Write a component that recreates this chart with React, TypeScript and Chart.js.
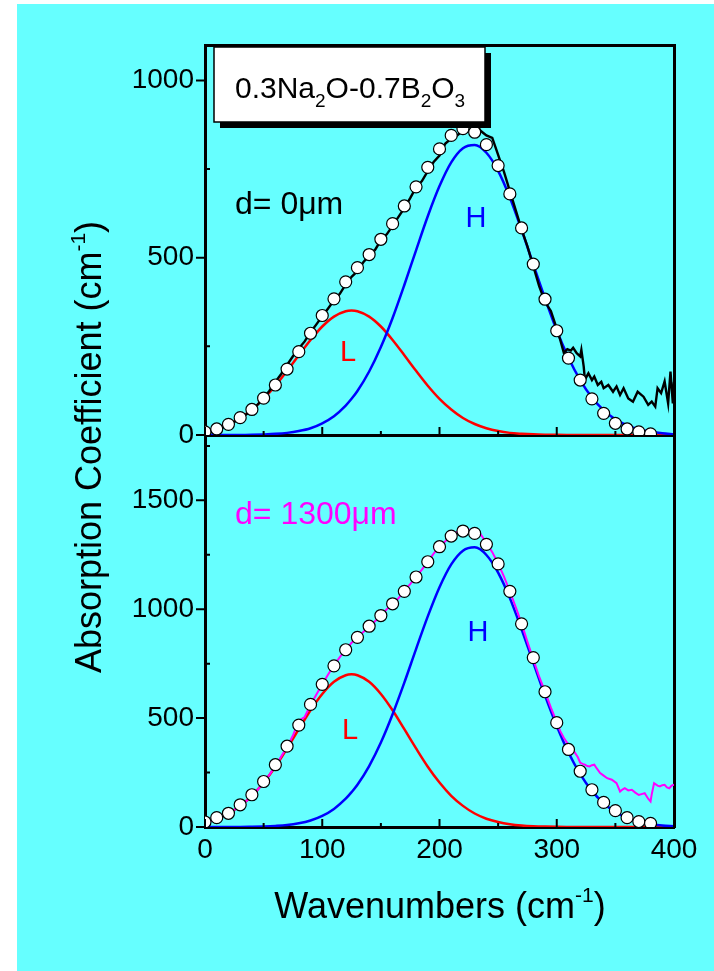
import React, { useEffect, useRef } from 'react';
import { Chart, registerables } from 'chart.js';

Chart.register(...registerables);

const W = 697;
const H = 967;
const FONT = "'Liberation Sans', Arial, Helvetica, sans-serif";

// ---------- data ----------
const compX = [0, 10, 20, 30, 40, 50, 60, 70, 80, 90, 100, 110, 120, 125, 130, 140, 150, 160, 170, 180, 190, 200, 210, 220, 230, 240, 250, 260, 270, 280, 290, 300, 310, 320, 330, 340, 350, 360, 370, 380, 390, 400];
const topL = [11, 19, 31, 48, 72, 102, 139, 181, 225, 268, 306, 334, 349, 351, 349, 334, 306, 268, 225, 181, 139, 102, 72, 48, 31, 19, 11, 6, 3.5, 1.8, 0.9, 0.4, 0.2, 0.1, 0, 0, 0, 0, 0, 0, 0, 0];
const topH = [0, 0, 0, 0, 0.5, 1.6, 3.2, 6, 11, 19, 33, 53, 83, 102, 124, 179, 248, 330, 423, 521, 617, 702, 769, 809, 818, 796, 745, 670, 579, 481, 385, 295, 218, 155, 106, 70, 44, 27, 16, 9, 5, 2];
const botL = [23, 38, 62, 97, 143, 204, 277, 361, 449, 536, 611, 667, 697, 701, 697, 667, 611, 536, 449, 361, 277, 204, 143, 97, 62, 38, 23, 13, 7, 3.6, 1.8, 0.8, 0.4, 0.2, 0, 0, 0, 0, 0, 0, 0, 0];
const botH = [0, 0, 0, 0, 1, 2.5, 5, 9, 17, 30, 51, 83, 130, 160, 194, 280, 388, 518, 663, 817, 967, 1101, 1206, 1269, 1284, 1249, 1168, 1051, 908, 755, 603, 464, 342, 243, 166, 109, 69, 42, 24, 14, 7, 4];

const circleX = [0, 10, 20, 30, 40, 50, 60, 70, 80, 90, 100, 110, 120, 130, 140, 150, 160, 170, 180, 190, 200, 210, 220, 230, 240, 250, 260, 270, 280, 290, 300, 310, 320, 330, 340, 350, 360, 370, 380];
const topFit = [9, 17, 30, 49, 72, 104, 141, 186, 235, 287, 337, 384, 432, 472, 509, 552, 596, 646, 700, 755, 807, 845, 864, 854, 819, 760, 680, 584, 482, 383, 294, 217, 155, 102, 61, 33, 17, 9, 3];
const botFit = [23, 43, 63, 102, 148, 209, 286, 371, 468, 563, 655, 740, 814, 871, 922, 971, 1025, 1082, 1148, 1218, 1287, 1336, 1359, 1348, 1298, 1208, 1082, 933, 778, 621, 479, 356, 256, 171, 113, 75, 43, 25, 17];

const topMeasX = [0, 5, 10, 15, 20, 25, 30, 35, 40, 45, 50, 55, 60, 65, 70, 75, 80, 85, 90, 95, 100, 105, 110, 115, 120, 125, 130, 135, 140, 145, 150, 155, 160, 165, 170, 175, 180, 185, 190, 195, 200, 205, 210, 215, 220, 225, 230, 235, 240, 245, 250, 255, 260, 265, 270, 275, 280, 285, 290, 295, 300,
  303, 306, 309, 312, 314, 317, 320, 321, 323, 324, 327, 330, 332, 335, 338, 340, 344, 348, 351, 354, 357, 361, 365, 369, 374, 378, 381, 384, 386, 389, 392, 395, 397, 399, 400];
const topMeasY = [3, 8, 14, 21, 28, 37, 47, 58, 70, 86, 104, 125, 150, 172, 198, 222, 244, 264, 290, 312, 335, 357, 380, 398, 425, 446, 462, 487, 506, 522, 549, 566, 590, 615, 640, 668, 698, 716, 744, 770, 788, 822, 836, 845, 858, 870, 882, 858, 845, 838, 790, 742, 688, 634, 580, 532, 476, 420, 375, 350, 300,
  268, 232, 242, 238, 246, 231, 222, 240, 193, 156, 174, 155, 165, 141, 150, 132, 141, 122, 137, 113, 132, 103, 94, 122, 108, 85, 94, 80, 132, 118, 151, 89, 179, 89, 150];

const botMeasX = [0, 5, 10, 15, 20, 25, 30, 35, 40, 45, 50, 55, 60, 65, 70, 75, 80, 85, 90, 95, 100, 105, 110, 115, 120, 125, 130, 135, 140, 145, 150, 155, 160, 165, 170, 175, 180, 185, 190, 195, 200, 205, 210, 215, 220, 225, 230, 235, 240, 245, 250, 255, 260, 265, 270, 275, 280, 285, 290, 295, 300,
  303, 306, 309, 312, 315, 318, 320, 322, 324, 326, 328, 330, 332, 334, 337, 340, 343, 347, 351, 354, 356, 358, 361, 364, 367, 370, 373, 375, 378, 380, 381, 383, 386, 388, 390, 392, 394, 396, 398, 400];
const botMeasY = [20, 28, 38, 48, 62, 78, 97, 118, 143, 172, 205, 240, 280, 324, 368, 420, 488, 505, 560, 608, 655, 700, 742, 780, 815, 846, 870, 895, 920, 945, 970, 1000, 1024, 1050, 1085, 1115, 1150, 1182, 1218, 1255, 1288, 1312, 1338, 1355, 1362, 1365, 1368, 1345, 1305, 1262, 1210, 1150, 1082, 1010, 935, 850, 770, 690, 622, 548, 482,
  440, 410, 385, 370, 345, 320, 295, 290, 286, 280, 278, 284, 286, 270, 248, 236, 224, 217, 201, 163, 172, 178, 168, 171, 158, 147, 152, 155, 130, 117, 150, 201, 190, 186, 192, 194, 182, 178, 190, 195];

const xTickValues = [0, 100, 200, 300, 400];
const xMinorValues = [50, 150, 250, 350];
const topYMajor = [0, 500, 1000];
const topYMinor = [250, 750];
const botYMajor = [0, 500, 1000, 1500];
const botYMinor = [250, 750, 1250, 1750];
const TOP_YMAX = 1100;
const BOT_YMAX = 1800;

// ---------- layout (canvas coordinates) ----------
const AREA_LEFT = 188;
const AREA_RIGHT = 657;
const TOP_A = 41;
const MID = 431;
const BOT_B = 823;
const Y_AXIS_W = 100;
const X_AXIS_H = 60;

type Piece = { t: string; size: number; dy?: number };

function drawRich(ctx: CanvasRenderingContext2D, pieces: Piece[], x: number, y: number, align: 'left' | 'center', color: string) {
  ctx.save();
  ctx.fillStyle = color;
  ctx.textBaseline = 'alphabetic';
  ctx.textAlign = 'left';
  let total = 0;
  for (const p of pieces) {
    ctx.font = `${p.size}px ${FONT}`;
    total += ctx.measureText(p.t).width;
  }
  let cx = align === 'center' ? x - total / 2 : x;
  for (const p of pieces) {
    ctx.font = `${p.size}px ${FONT}`;
    ctx.fillText(p.t, cx, y + (p.dy || 0));
    cx += ctx.measureText(p.t).width;
  }
  ctx.restore();
}

function drawTicks(chart: any, yMajor: number[], yMinor: number[]) {
  const ctx: CanvasRenderingContext2D = chart.ctx;
  const xs = chart.scales.x;
  const ys = chart.scales.y;
  const { left, bottom } = chart.chartArea;
  ctx.save();
  ctx.strokeStyle = '#000';
  ctx.lineWidth = 2;
  ctx.beginPath();
  for (const v of xTickValues) {
    const px = xs.getPixelForValue(v);
    ctx.moveTo(px, bottom);
    ctx.lineTo(px, bottom - 8);
  }
  for (const v of xMinorValues) {
    const px = xs.getPixelForValue(v);
    ctx.moveTo(px, bottom);
    ctx.lineTo(px, bottom - 4);
  }
  for (const v of yMajor) {
    const py = ys.getPixelForValue(v);
    ctx.moveTo(left, py);
    ctx.lineTo(left - 9, py);
  }
  for (const v of yMinor) {
    const py = ys.getPixelForValue(v);
    ctx.moveTo(left, py);
    ctx.lineTo(left + 5, py);
  }
  ctx.stroke();
  ctx.restore();
}

const pts = (xs: number[], ys: number[]) => xs.map((x, i) => ({ x, y: ys[i] }));

const frameBorder = { display: true, color: '#000', width: 3 };
const plain = (v: any) => `${v}`;

function makeScales(yMax: number, yTicks: number[], showXLabels: boolean) {
  return {
    x: {
      type: 'linear',
      position: 'bottom',
      min: 0,
      max: 400,
      afterBuildTicks: (s: any) => { s.ticks = xTickValues.map((v) => ({ value: v })); },
      ticks: showXLabels
        ? { display: true, autoSkip: false, maxRotation: 0, color: '#000', font: { family: FONT, size: 28 }, padding: 6, callback: plain }
        : { display: false },
      grid: { display: false, drawTicks: false },
      border: frameBorder,
      afterFit: (s: any) => { s.height = showXLabels ? X_AXIS_H : 0; },
    },
    xt: {
      type: 'linear',
      position: 'top',
      min: 0,
      max: 400,
      ticks: { display: false },
      grid: { display: false, drawTicks: false },
      border: frameBorder,
      afterFit: (s: any) => { s.height = 0; },
    },
    y: {
      type: 'linear',
      position: 'left',
      min: 0,
      max: yMax,
      afterBuildTicks: (s: any) => { s.ticks = yTicks.map((v) => ({ value: v })); },
      ticks: { autoSkip: false, color: '#000', font: { family: FONT, size: 28 }, padding: 11, callback: plain },
      grid: { display: false, drawTicks: false },
      border: frameBorder,
      afterFit: (s: any) => { s.width = Y_AXIS_W; },
    },
    yr: {
      type: 'linear',
      position: 'right',
      min: 0,
      max: yMax,
      ticks: { display: false },
      grid: { display: false, drawTicks: false },
      border: frameBorder,
      afterFit: (s: any) => { s.width = 0; },
    },
  };
}

function datasets(fit: number[], measX: number[], measY: number[], measColor: string, measWidth: number, hv: number[], lv: number[]) {
  return [
    { label: 'Fit', data: pts(circleX, fit), showLine: false, pointRadius: 6, pointBackgroundColor: '#FFFFFF', pointBorderColor: '#000000', pointBorderWidth: 1.2 },
    { label: 'Measured', data: pts(measX, measY), borderColor: measColor, borderWidth: measWidth, pointRadius: 0, tension: 0 },
    { label: 'H', data: pts(compX, hv), borderColor: '#0000FF', borderWidth: 2.5, pointRadius: 0, cubicInterpolationMode: 'monotone' },
    { label: 'L', data: pts(compX, lv), borderColor: '#FF0000', borderWidth: 2.5, pointRadius: 0, cubicInterpolationMode: 'monotone' },
  ];
}

const annotTop = {
  id: 'annotTop',
  afterDraw(chart: any) {
    const ctx: CanvasRenderingContext2D = chart.ctx;
    drawTicks(chart, topYMajor, topYMinor);
    // composition box with shadow
    ctx.save();
    ctx.fillStyle = '#000';
    ctx.fillRect(203, 49, 271, 75);
    ctx.fillStyle = '#FFF';
    ctx.fillRect(197, 43, 271, 75);
    ctx.strokeStyle = '#000';
    ctx.lineWidth = 1.5;
    ctx.strokeRect(197, 43, 271, 75);
    ctx.restore();
    drawRich(ctx, [
      { t: '0.3Na', size: 30 }, { t: '2', size: 19, dy: 9 }, { t: 'O-0.7B', size: 30 }, { t: '2', size: 19, dy: 9 }, { t: 'O', size: 30 }, { t: '3', size: 19, dy: 9 },
    ], 218, 94, 'left', '#000');
    drawRich(ctx, [{ t: 'd= 0μm', size: 32 }], 218, 210, 'left', '#000');
    drawRich(ctx, [{ t: 'H', size: 29 }], 459, 223, 'center', '#0000FF');
    drawRich(ctx, [{ t: 'L', size: 29 }], 331, 357, 'center', '#FF0000');
  },
};

const annotBottom = {
  id: 'annotBottom',
  afterDraw(chart: any) {
    const ctx: CanvasRenderingContext2D = chart.ctx;
    drawTicks(chart, botYMajor, botYMinor);
    drawRich(ctx, [{ t: 'd= 1300μm', size: 32 }], 218, 520, 'left', '#FF00FF');
    drawRich(ctx, [{ t: 'H', size: 29 }], 461, 637, 'center', '#0000FF');
    drawRich(ctx, [{ t: 'L', size: 29 }], 333, 735, 'center', '#FF0000');
    // x-axis title
    drawRich(ctx, [{ t: 'Wavenumbers (cm', size: 36 }, { t: '-1', size: 21, dy: -16 }, { t: ')', size: 36 }], 423, 914, 'center', '#000');
    // y-axis title (rotated)
    ctx.save();
    ctx.translate(84, 443);
    ctx.rotate(-Math.PI / 2);
    drawRich(ctx, [{ t: 'Absorption Coefficient (cm', size: 36 }, { t: '-1', size: 21, dy: -16 }, { t: ')', size: 36 }], 0, 0, 'center', '#000');
    ctx.restore();
  },
};

export default function App() {
  const refA = useRef<HTMLCanvasElement | null>(null);
  const refB = useRef<HTMLCanvasElement | null>(null);

  useEffect(() => {
    const common = {
      responsive: false,
      maintainAspectRatio: false,
      animation: false,
      events: [] as any[],
      plugins: { legend: { display: false }, tooltip: { enabled: false }, title: { display: false } },
    };
    const chartA = new Chart(refA.current as HTMLCanvasElement, {
      type: 'line',
      data: { datasets: datasets(topFit, topMeasX, topMeasY, '#000000', 2.4, topH, topL) as any },
      options: {
        ...common,
        layout: { padding: { left: AREA_LEFT - Y_AXIS_W, right: W - AREA_RIGHT, top: TOP_A, bottom: H - MID } },
        scales: makeScales(TOP_YMAX, topYMajor, false) as any,
      } as any,
      plugins: [annotTop],
    });
    const chartB = new Chart(refB.current as HTMLCanvasElement, {
      type: 'line',
      data: { datasets: datasets(botFit, botMeasX, botMeasY, '#FF00FF', 2, botH, botL) as any },
      options: {
        ...common,
        layout: { padding: { left: AREA_LEFT - Y_AXIS_W, right: W - AREA_RIGHT, top: MID, bottom: H - BOT_B - X_AXIS_H } },
        scales: makeScales(BOT_YMAX, botYMajor, true) as any,
      } as any,
      plugins: [annotBottom],
    });
    return () => {
      chartA.destroy();
      chartB.destroy();
    };
  }, []);

  const canvasStyle: React.CSSProperties = { position: 'absolute', left: 0, top: 0, width: W, height: H };
  return (
    <div style={{ position: 'absolute', left: 17, top: 4, width: W, height: H, background: '#66FFFF', overflow: 'hidden' }}>
      <canvas ref={refB} width={W} height={H} style={canvasStyle} />
      <canvas ref={refA} width={W} height={H} style={canvasStyle} />
    </div>
  );
}
